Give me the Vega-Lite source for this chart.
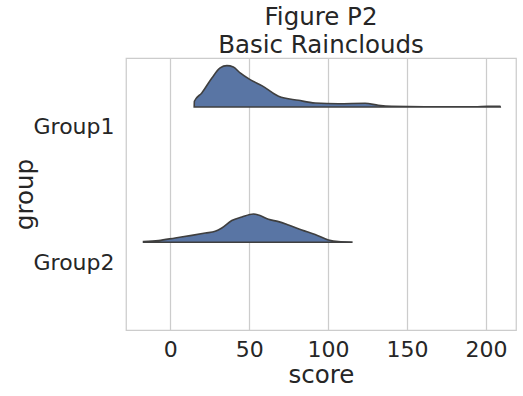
{
  "$schema": "https://vega.github.io/schema/vega-lite/v6.json",
  "width": 390,
  "height": 272,
  "autosize": "none",
  "padding": {"left": 126, "top": 58, "right": 7, "bottom": 66},
  "background": "white",
  "title": {"text": ["Figure P2", "Basic Rainclouds"], "fontSize": 24.5, "font": "DejaVu Sans", "fontWeight": "normal", "color": "#262626", "lineHeight": 28, "offset": 0},
  "config": {
    "view": {"stroke": "#cccccc", "strokeWidth": 1.25},
    "axis": {"labelFont": "DejaVu Sans", "titleFont": "DejaVu Sans", "labelColor": "#262626", "titleColor": "#262626", "labelFontSize": 22, "titleFontSize": 24.5, "titleFontWeight": "normal", "domain": false, "ticks": false, "gridColor": "#cccccc", "gridWidth": 1.25}
  },
  "data": {"values": [
    {"group": "Group1", "score": 15.2, "density": 0},
    {"group": "Group1", "score": 15.3, "density": 0.042},
    {"group": "Group1", "score": 20, "density": 0.103},
    {"group": "Group1", "score": 26.4, "density": 0.213},
    {"group": "Group1", "score": 31.6, "density": 0.287},
    {"group": "Group1", "score": 35.9, "density": 0.304},
    {"group": "Group1", "score": 40, "density": 0.294},
    {"group": "Group1", "score": 44.3, "density": 0.25},
    {"group": "Group1", "score": 50.6, "density": 0.201},
    {"group": "Group1", "score": 58, "density": 0.157},
    {"group": "Group1", "score": 68.6, "density": 0.079},
    {"group": "Group1", "score": 81.2, "density": 0.049},
    {"group": "Group1", "score": 91.8, "density": 0.029},
    {"group": "Group1", "score": 106.5, "density": 0.024},
    {"group": "Group1", "score": 123.4, "density": 0.027},
    {"group": "Group1", "score": 131.8, "density": 0.0125},
    {"group": "Group1", "score": 140.3, "density": 0.005},
    {"group": "Group1", "score": 161, "density": 0.002},
    {"group": "Group1", "score": 193, "density": 0.002},
    {"group": "Group1", "score": 201, "density": 0.005},
    {"group": "Group1", "score": 208.9, "density": 0.005},
    {"group": "Group1", "score": 209, "density": 0},
    {"group": "Group2", "score": -16.9, "density": 0.005},
    {"group": "Group2", "score": -7.4, "density": 0.0125},
    {"group": "Group2", "score": 3.2, "density": 0.032},
    {"group": "Group2", "score": 13.7, "density": 0.051},
    {"group": "Group2", "score": 22.2, "density": 0.068},
    {"group": "Group2", "score": 28.5, "density": 0.081},
    {"group": "Group2", "score": 32.7, "density": 0.105},
    {"group": "Group2", "score": 39, "density": 0.16},
    {"group": "Group2", "score": 45.4, "density": 0.186},
    {"group": "Group2", "score": 52.7, "density": 0.208},
    {"group": "Group2", "score": 55.9, "density": 0.2},
    {"group": "Group2", "score": 62.2, "density": 0.169},
    {"group": "Group2", "score": 68.6, "density": 0.152},
    {"group": "Group2", "score": 74.9, "density": 0.127},
    {"group": "Group2", "score": 83.3, "density": 0.09},
    {"group": "Group2", "score": 91.8, "density": 0.057},
    {"group": "Group2", "score": 100.2, "density": 0.017},
    {"group": "Group2", "score": 106.5, "density": 0.005},
    {"group": "Group2", "score": 115, "density": 0.002}
  ]},
  "transform": [
    {"calculate": "datum.group === 'Group1' ? 0.36 : 1.355", "as": "base"},
    {"calculate": "datum.base - datum.density", "as": "top"}
  ],
  "mark": {"type": "area", "fill": "#5975a4", "stroke": "#3f3f3f", "strokeWidth": 1.6, "interpolate": "monotone"},
  "encoding": {
    "detail": {"field": "group"},
    "x": {"field": "score", "type": "quantitative", "title": "score", "scale": {"domain": [-28, 219], "nice": false, "zero": false}, "axis": {"values": [0, 50, 100, 150, 200], "labelPadding": 9, "titlePadding": 3}},
    "y": {"field": "top", "type": "quantitative", "title": "group", "scale": {"domain": [0, 2], "reverse": true, "nice": false, "zero": false}, "axis": {"values": [0.5, 1.5], "grid": false, "labelExpr": "datum.value === 0.5 ? 'Group1' : 'Group2'", "labelPadding": 12, "titlePadding": -4}},
    "y2": {"field": "base"}
  }
}
